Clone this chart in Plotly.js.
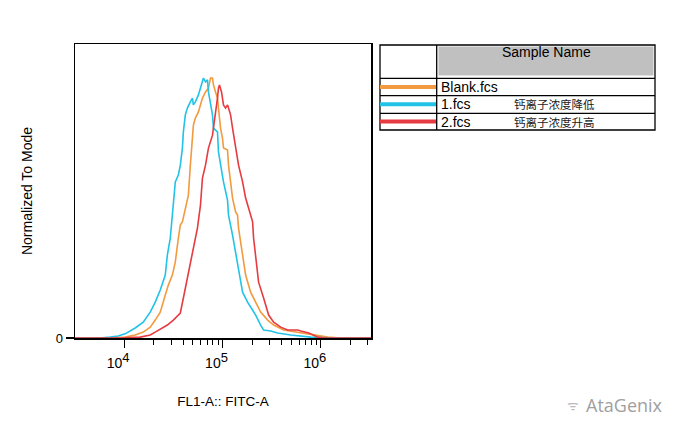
<!DOCTYPE html>
<html><head><meta charset="utf-8">
<script src="https://cdn.plot.ly/plotly-3.0.1.min.js"></script>
<style>html,body{margin:0;padding:0;background:#fff}#chart{width:685px;height:433px}</style>
</head><body><div id="chart"></div>
<script>
// ---- Data (x = log10 of FL1-A intensity, y = % of modal scale) ----
const sampleNames = ['Blank.fcs', '1.fcs', '2.fcs'];
const sampleNotes = ['', '钙离子浓度降低', '钙离子浓度升高'];
const sampleColors = ['#f29a3f', '#22c3e6', '#e63b40'];

const blankLogX = [3.500,3.857,4.010,4.112,4.194,4.265,4.316,4.367,4.418,4.449,4.490,4.520,4.551,4.571,4.592,4.622,4.653,4.673,4.694,4.704,4.724,4.755,4.796,4.827,4.857,4.878,4.898,4.908,4.929,4.949,4.959,4.980,5.000,5.010,5.051,5.061,5.082,5.102,5.133,5.153,5.163,5.204,5.235,5.286,5.337,5.388,5.459,5.520,5.622,5.765,5.969,6.071,6.204,6.510];
const blankY    = [0,0,0.3,1.0,2.0,3.7,6.1,8.8,14.6,18.0,21.4,25.9,34.0,38.4,39.5,44.2,48.6,58.8,66.7,72.4,74.8,76.9,81.6,83.7,85.0,88.4,88.4,86.1,83.7,81.6,78.2,71.4,68.0,64.6,63.9,58.8,53.1,47.6,42.9,41.8,37.4,28.2,21.4,15.6,12.2,8.8,6.1,4.4,2.7,2.0,1.0,0.3,0,0];

const lowLogX = [3.500,3.755,3.857,3.939,4.010,4.112,4.194,4.265,4.316,4.367,4.418,4.439,4.469,4.490,4.500,4.520,4.551,4.571,4.592,4.602,4.622,4.643,4.673,4.694,4.704,4.724,4.755,4.796,4.806,4.827,4.847,4.857,4.878,4.898,4.908,4.929,4.949,4.959,4.980,5.010,5.051,5.061,5.102,5.133,5.163,5.204,5.255,5.306,5.337,5.388,5.418,5.490,5.561,5.694,5.898,6.102,6.510];
const lowY    = [0,0,0.3,0.7,1.4,3.4,5.4,8.8,12.2,16.3,21.4,28.2,34.0,41.8,46.9,53.1,55.4,58.8,64.6,70.1,75.9,78.2,80.3,81.6,79.3,80.3,82.7,87.8,88.4,87.1,87.8,83.7,79.3,75.9,71.4,70.7,70.1,63.3,58.8,53.1,46.9,41.8,35.0,29.3,22.4,15.6,12.2,9.5,7.8,4.4,2.7,2.4,1.7,1.0,0.3,0,0];

const highLogX = [3.500,3.959,4.163,4.265,4.316,4.388,4.439,4.500,4.571,4.602,4.643,4.673,4.704,4.745,4.776,4.796,4.827,4.857,4.898,4.908,4.929,4.949,4.959,4.969,4.990,5.010,5.031,5.051,5.061,5.082,5.102,5.133,5.163,5.204,5.235,5.265,5.306,5.316,5.347,5.367,5.418,5.469,5.520,5.592,5.663,5.765,5.796,5.878,5.969,6.031,6.510];
const highY    = [0,0,0.3,1.0,2.0,3.4,4.4,6.1,8.5,13.6,20.4,25.9,31.6,37.4,45.2,54.4,58.8,64.6,69.0,71.4,75.9,81.6,85.0,86.1,83.7,79.3,78.2,79.3,78.2,75.9,71.4,64.6,58.8,53.1,47.6,44.2,39.5,34.0,25.9,19.0,13.6,7.8,5.4,3.7,2.7,2.7,2.4,1.7,0.3,0,0];

const xTickExponents = [4, 5, 6];
const xTickLabels = ['10<sup><span style="font-size:13px">4</span></sup>', '10<sup><span style="font-size:13px">5</span></sup>', '10<sup><span style="font-size:13px">6</span></sup>'];

const seriesLogX = [blankLogX, lowLogX, highLogX];
const seriesY = [blankY, lowY, highY];

const xTitle = 'FL1-A:: FITC-A';
const yTitle = 'Normalized To Mode';
const tableHeader = 'Sample Name';
const watermark = 'AtaGenix';

// ---- Build ----
const traces = seriesLogX.map((lx, i) => ({
  type: 'scatter', mode: 'lines', name: sampleNames[i],
  x: lx.map(v => Math.pow(10, v)), y: seriesY[i],
  line: {color: sampleColors[i], width: 1.6}, hoverinfo: 'skip'
}));

const minorVals = [];
xTickExponents.forEach(d => { for (let k = 2; k <= 9; k++) { const v = k * Math.pow(10, d); if (v < Math.pow(10, 6.51)) minorVals.push(v); } });

// pixel -> paper helpers for the plot area (75..371 x 44..338)
const L = 75, R = 371, T = 44, B = 338;
const px = x => (x - L) / (R - L);
const py = y => (B - y) / (B - T);

const font = 'Arial, "Liberation Sans", sans-serif';
const shapes = [];
const annotations = [];
// table
shapes.push({type:'rect', xref:'paper', yref:'paper', x0:px(438.5), x1:px(653.5), y0:py(75.5), y1:py(46.5), fillcolor:'#c0c0c0', line:{width:0}});
shapes.push({type:'rect', xref:'paper', yref:'paper', x0:px(380), x1:px(655), y0:py(130), y1:py(45), line:{color:'#000', width:1.3}});
shapes.push({type:'line', xref:'paper', yref:'paper', x0:px(436.7), x1:px(436.7), y0:py(130), y1:py(45), line:{color:'#000', width:1.3}});
const rowLines = [78.3, 95.7, 113.3];
rowLines.forEach(y => shapes.push({type:'line', xref:'paper', yref:'paper', x0:px(380), x1:px(655), y0:py(y), y1:py(y), line:{color:'#000', width:1.3}}));
annotations.push({xref:'paper', yref:'paper', x:px(546), y:py(52.5), text:tableHeader, showarrow:false, xanchor:'center', yanchor:'middle', font:{family:font, size:14, color:'#000'}});
const rowCenters = [87.0, 104.2, 121.5];
sampleNames.forEach((n, i) => {
  shapes.push({type:'line', xref:'paper', yref:'paper', x0:px(380), x1:px(436), y0:py(rowCenters[i]), y1:py(rowCenters[i]), line:{color:sampleColors[i], width:4}});
  annotations.push({xref:'paper', yref:'paper', x:px(439), y:py(rowCenters[i]), text:n, showarrow:false, xanchor:'left', yanchor:'middle', font:{family:font, size:14, color:'#000'}});
  if (sampleNotes[i]) annotations.push({xref:'paper', yref:'paper', x:px(512), y:py(rowCenters[i]), text:sampleNotes[i], showarrow:false, xanchor:'left', yanchor:'middle', font:{family:'"Noto Sans CJK SC", sans-serif', size:11.5, color:'#222'}});
});
annotations.push({xref:'paper', yref:'paper', x:px(584), y:py(405), text:watermark, showarrow:false, xanchor:'left', yanchor:'middle', font:{family:'"Open Sans", sans-serif', size:18, color:'#a0a0a0'}});
annotations.push({xref:'paper', yref:'paper', x:px(581), y:py(405), text:'ᯤ', showarrow:false, xanchor:'right', yanchor:'middle', font:{family:'"DejaVu Sans", sans-serif', size:13, color:'#bbbbbb'}});

const layout = {
  width: 685, height: 433,
  margin: {l: L, r: 685 - R, t: T, b: 433 - B, pad: 0},
  paper_bgcolor: '#fff', plot_bgcolor: '#fff',
  showlegend: false,
  font: {family: font, color: '#000', size: 13},
  xaxis: {
    type: 'log', range: [3.5, 6.51],
    tickmode: 'array', tickvals: xTickExponents.map(e => Math.pow(10, e)), ticktext: xTickLabels,
    showgrid: false, zeroline: false, showline: true, mirror: true, linecolor: '#000', linewidth: 1.5,
    ticks: 'outside', ticklen: 8, tickwidth: 1.2, tickcolor: '#000', ticklabelstandoff: 4, ticklabelshift: -6,
    tickfont: {family: font, size: 14, color: '#000'},
    minor: {tickmode: 'array', tickvals: minorVals, ticks: 'outside', ticklen: 5, tickwidth: 1, tickcolor: '#000', showgrid: false},
    title: {text: xTitle, font: {family: font, size: 13.5, color: '#000'}, standoff: 26}
  },
  yaxis: {
    range: [0, 100], tickmode: 'array', tickvals: [0], ticktext: ['0'],
    showgrid: false, zeroline: false, showline: true, mirror: true, linecolor: '#000', linewidth: 1.5,
    ticks: 'outside', ticklen: 8, tickwidth: 1.2, tickcolor: '#000',
    tickfont: {family: font, size: 13, color: '#000'},
    title: {text: yTitle, font: {family: font, size: 14, color: '#000'}, standoff: 20}
  },
  shapes: shapes, annotations: annotations
};

Plotly.newPlot('chart', traces, layout, {displayModeBar: false, staticPlot: true});
</script>
</body></html>
